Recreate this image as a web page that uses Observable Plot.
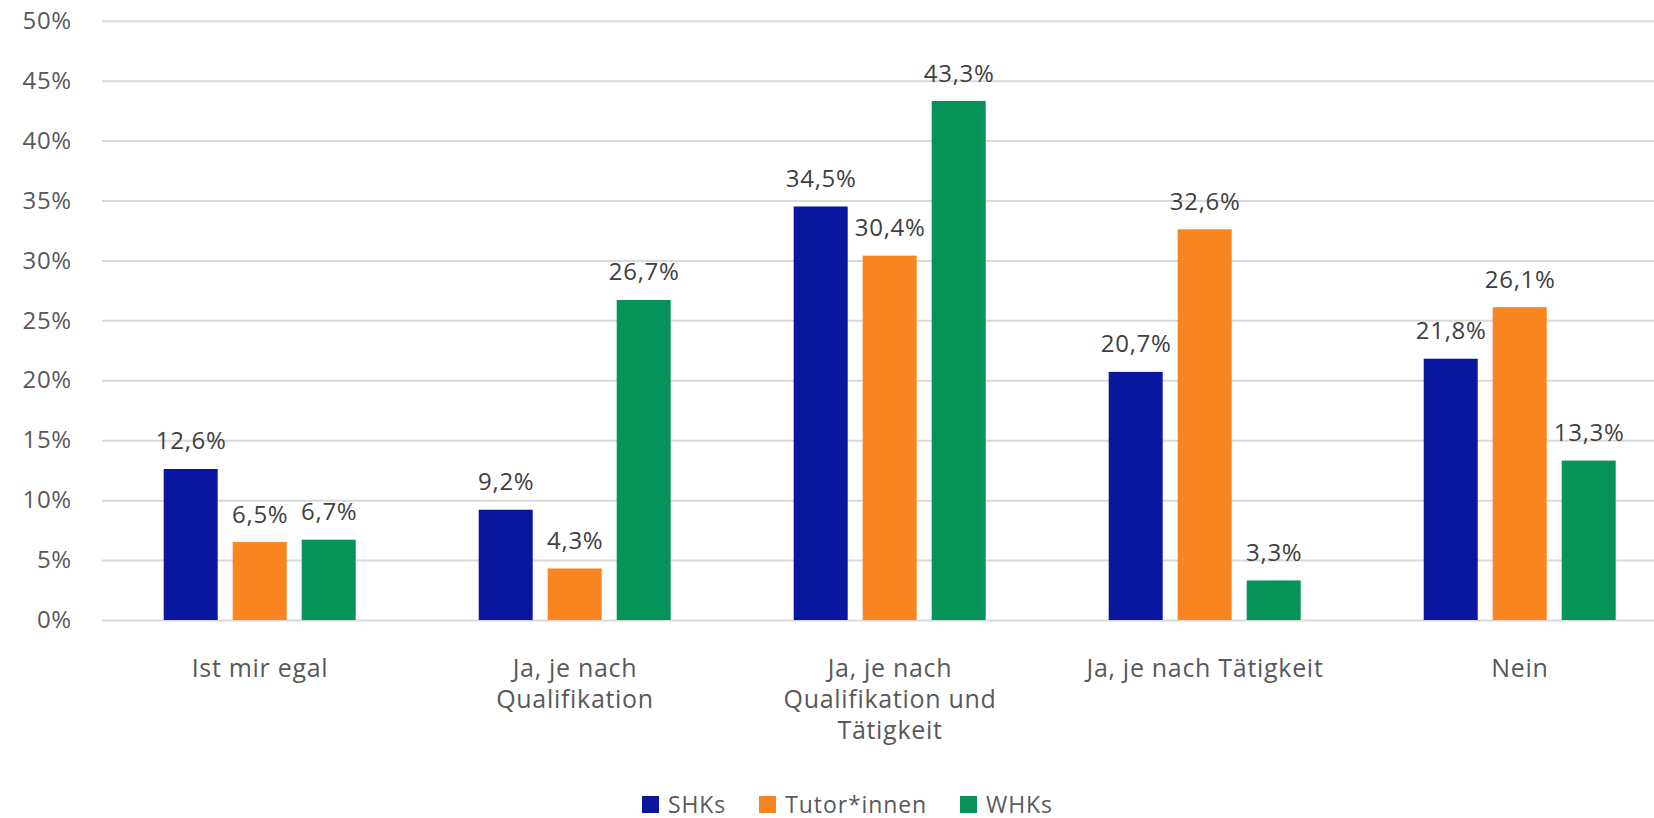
<!DOCTYPE html>
<html>
<head>
<meta charset="utf-8">
<script src="https://cdn.jsdelivr.net/npm/d3@7"></script>
<script src="https://cdn.jsdelivr.net/npm/@observablehq/plot@0.6"></script>
<style>
  html, body { margin: 0; padding: 0; background: white; overflow: hidden; }
  #chart { width: 1654px; height: 818px; position: relative; font-family: "Open Sans", "Noto Sans", sans-serif; }
  .legend { display: flex; align-items: center; padding-left: 642px; padding-top: 8px; font-size: 23px; color: #595959; letter-spacing: 0.9px; line-height: normal; }
  .legend .item { display: flex; align-items: center; margin-right: 33px; }
  .legend .sw { width: 17px; height: 17px; margin-right: 9px; flex: none; }
  .legend .lbl { line-height: normal; }
</style>
</head>
<body>
<div id="chart"></div>
<script>
const categories = ["Ist mir egal", "Ja, je nach Qualifikation", "Ja, je nach Qualifikation und Tätigkeit", "Ja, je nach Tätigkeit", "Nein"];
const categoryLabels = ["Ist mir egal", "Ja, je nach\nQualifikation", "Ja, je nach\nQualifikation und\nTätigkeit", "Ja, je nach Tätigkeit", "Nein"];
const series = ["SHKs", "Tutor*innen", "WHKs"];
const seriesColors = ["#0b169e", "#f98520", "#05935a"];
const shkValues = [12.6, 9.2, 34.5, 20.7, 21.8];
const tutorValues = [6.5, 4.3, 30.4, 32.6, 26.1];
const whkValues = [6.7, 26.7, 43.3, 3.3, 13.3];
const yTicks = [0, 5, 10, 15, 20, 25, 30, 35, 40, 45, 50];

const valuesBySeries = [shkValues, tutorValues, whkValues];
const data = [];
categories.forEach((c, i) => {
  series.forEach((s, j) => data.push({category: c, series: s, value: valuesBySeries[j][i]}));
});
const labelData = categories.map((c, i) => ({category: c, label: categoryLabels[i]}));
const fmt = v => v.toFixed(1).replace(".", ",") + "%";

const W = 1654, H = 780;
const plot = Plot.plot({
  width: W,
  height: H,
  marginLeft: 101.3,
  marginRight: -23.8,
  marginTop: 20.7,
  marginBottom: H - 620,
  style: {fontFamily: '"Open Sans", "Noto Sans", sans-serif', background: "white", overflow: "hidden", letterSpacing: "0.7px"},
  fx: {domain: categories, padding: 0, axis: null},
  x: {domain: series, paddingInner: 0.2143, paddingOuter: 0.859, axis: null},
  y: {domain: [0, 50], axis: null},
  color: {domain: series, range: seriesColors},
  marks: [
    Plot.gridY(yTicks, {stroke: "#d9d9d9", strokeOpacity: 1, strokeWidth: 2}),
    Plot.axisY(yTicks, {
      tickSize: 0, tickPadding: 30.6, tickFormat: d => d + "%",
      fontSize: 24, fill: "#595959", label: null
    }),
    Plot.barY(data, {fx: "category", x: "series", y: "value", fill: "series"}),
    Plot.text(data, {
      fx: "category", x: "series", y: "value", text: d => fmt(d.value),
      dy: -20, lineAnchor: "bottom", fontSize: 24, fill: "#404040"
    }),
    Plot.text(labelData, {
      fx: "category", text: "label", frameAnchor: "bottom",
      dy: 34, lineAnchor: "top", lineHeight: 1.25, fontSize: 25, fill: "#595959"
    })
  ]
});

const container = document.getElementById("chart");
container.appendChild(plot);

const color = plot.scale("color");
const legend = document.createElement("div");
legend.className = "legend";
series.forEach(s => {
  const item = document.createElement("div");
  item.className = "item";
  const sw = document.createElement("span");
  sw.className = "sw";
  sw.style.background = color.apply(s);
  const lbl = document.createElement("span");
  lbl.className = "lbl";
  lbl.textContent = s;
  item.appendChild(sw);
  item.appendChild(lbl);
  legend.appendChild(item);
});
container.appendChild(legend);
</script>
</body>
</html>
